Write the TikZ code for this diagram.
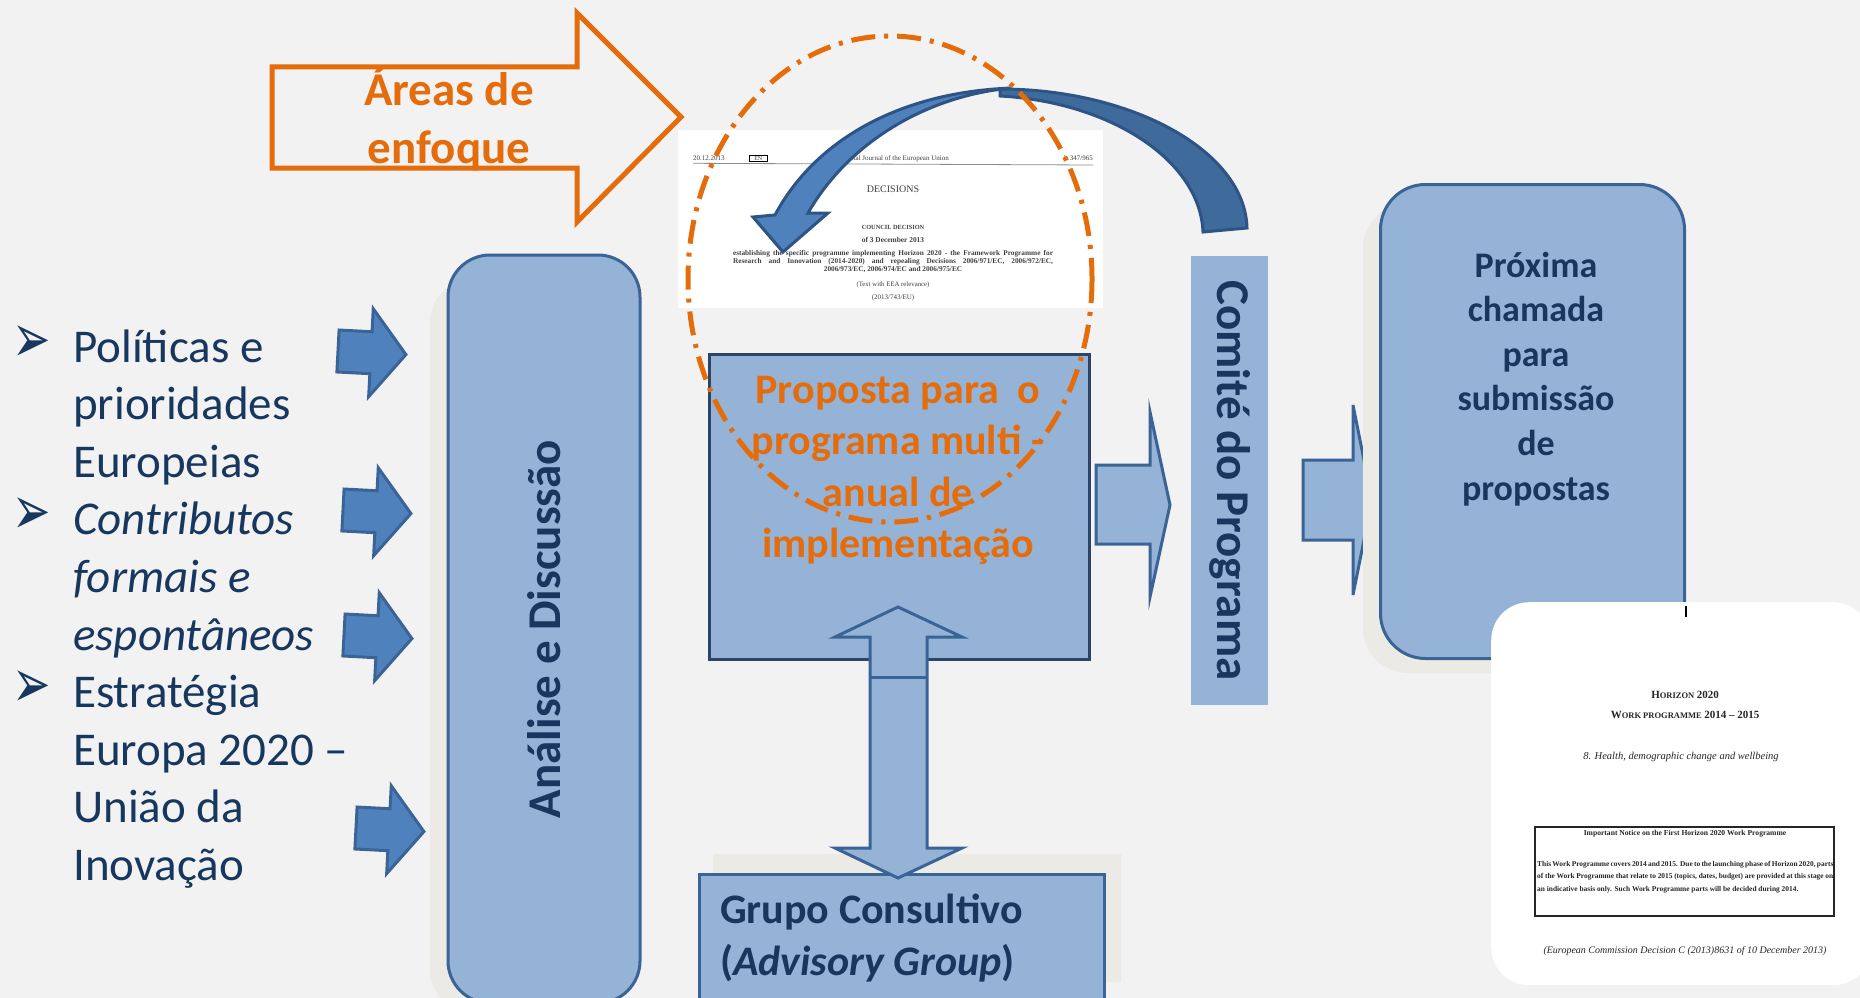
\documentclass[tikz,border=0pt]{standalone}
\usepackage{fontspec}
\setmainfont{Carlito}
\newfontfamily\docfont{Liberation Serif}
\newfontfamily\symfont{DejaVu Sans}
\usetikzlibrary{arrows.meta,calc,positioning}
\definecolor{fundo}{HTML}{F2F2F2}
\definecolor{azulclaro}{HTML}{95B3D7}
\definecolor{azul}{HTML}{4F81BD}
\definecolor{azulborda}{HTML}{3A6496}
\definecolor{azulescuro}{HTML}{2B4468}
\definecolor{marinho}{HTML}{17375E}
\definecolor{laranja}{HTML}{E46C0A}
\definecolor{sombra}{HTML}{ECEAE4}
\definecolor{curvaescura}{HTML}{3F6A9C}
\definecolor{curvaborda}{HTML}{2E5385}
\newcommand{\fsz}[1]{\fontsize{#1}{#1}\selectfont}

\begin{document}
\begin{tikzpicture}[x=1pt,y=-1pt,every node/.style={inner sep=0pt},
            caixa/.style={fill=azulclaro,draw=azulborda,line width=3pt},
            seta/.style={fill=azul,draw=azulborda,line width=3pt},
            texto/.style={text=marinho,font=\fsz{47}},
            titulo/.style={text=marinho,font=\bfseries\fsz{#1}},
            realce/.style={text=laranja,font=\bfseries\fsz{#1}},
            doc/.style={text=black!75,font=\docfont\fsz{#1}}]
\useasboundingbox (0,0) rectangle (1860,998);
\fill[fundo] (0,0) rectangle (1860,998);
% areas de enfoque
\draw[laranja,line width=5pt] (272,67)--(577,67)--(577,13)--(681,117)--(577,222)--(577,168)--(272,168)--cycle;
\node[realce=47,anchor=base] (areas1) at (449,105) {Áreas de};
\node[realce=47,anchor=base] (areas2) at (449,163) {enfoque};
% decisao do conselho
\node[fill=white,minimum width=425,minimum height=178,anchor=north west] (decisao) at (678,130) {};
\node[doc=7,anchor=base west] (data) at (693,160) {20.12.2013};
\node[doc=6,draw,line width=0.6pt,inner xsep=5pt,inner ysep=1pt,anchor=base west] (lingua) at (749,160) {EN};
\node[doc=7,anchor=base east] (jornal) at (949,160) {Official Journal of the European Union};
\node[doc=7,anchor=base east] (pagina) at (1093,160) {L 347/965};
\draw[black!45,line width=0.8pt] (data.south west)++(0,3)--(1093,165);
\node[doc=10,anchor=base] (decisions) at (893,192) {DECISIONS};
\node[doc=6.3,anchor=base,font=\docfont\bfseries\fsz{6.3}] (conselho) at (893,229) {COUNCIL DECISION};
\node[anchor=base,text=black!75,font=\docfont\bfseries\fsz{7.4}] (dia) at (893,242) {of 3 December 2013};
\node[anchor=base,text=black!75,font=\docfont\bfseries\fsz{7.3}] (par1) at (893,255) {\makebox[320pt][s]{establishing the specific programme implementing Horizon 2020 - the Framework Programme for}};
\node[anchor=base,text=black!75,font=\docfont\bfseries\fsz{7.3}] (par2) at (893,263) {\makebox[320pt][s]{Research and Innovation (2014-2020) and repealing Decisions 2006/971/EC, 2006/972/EC,}};
\node[anchor=base,text=black!75,font=\docfont\bfseries\fsz{7.3}] (par3) at (893,271) {2006/973/EC, 2006/974/EC and 2006/975/EC};
\node[doc=6.8,anchor=base] (eea) at (893,286) {(Text with EEA relevance)};
\node[doc=7,anchor=base] (ref) at (893,299) {(2013/743/EU)};
% analise e discussao
\fill[sombra,rounded corners=42pt] (430,280) rectangle (622,1012);
\node[caixa,rounded corners=42pt,rotate=90,minimum width=748,minimum height=192,titulo=47] (analise) at (544,629) {Análise e Discussão};
% lista da esquerda
\foreach \t [count=\i from 0] in {Políticas e,prioridades,Europeias,\textit{Contributos},\textit{formais e},\textit{espontâneos},Estratégia,Europa 2020 –,União da,Inovação}
  \node[texto,anchor=base west] (linha\i) at (73,{362+57.6*\i}) {\t};
\foreach \i in {0,3,6}
  \node[text=marinho,font=\symfont\fsz{46},yscale=1.5,anchor=base west] (marca\i) at (12,{362+57.6*\i}) {➢};
\foreach \x/\y [count=\i] in {338/351,343/510,344/635,356/828}
  \draw[seta,rotate around={-3:(\x,\y)}] (\x,\y-21)--++(33,0)--++(0,-23)--++(35,44)--++(-35,44)--++(0,-23)--++(-33,0)--cycle;
% proposta
\node[fill=azulclaro,draw=azulescuro,line width=3pt,minimum width=380,minimum height=305,anchor=north west] (proposta) at (708,353) {};
\foreach \t [count=\i from 0] in {Proposta para~~o,programa multi -,anual de,implementação}
  \node[realce=42,anchor=base] (prop\i) at (898,{403+51.5*\i}) {\t};
% comite
\node[fill=azulclaro,rotate=-90,minimum width=449,minimum height=77,titulo=47] (comite) at (1229.5,480.5) {Comité do Programa};
\draw[caixa] (1096,465)--(1150,465)--(1150,412)--(1170,505)--(1150,597)--(1150,544)--(1096,544)--cycle;
\draw[caixa] (1303,460)--(1353,460)--(1353,405)--(1372,500)--(1353,595)--(1353,540)--(1303,540)--cycle;
% proxima chamada
\fill[sombra,rounded corners=45pt] (1363,203) rectangle (1667,673);
\node[caixa,rounded corners=45pt,minimum width=304,minimum height=474,anchor=north west] (proxima) at (1379,183) {};
\foreach \t [count=\i from 0] in {Próxima,chamada,para,submissão,de,propostas}
  \node[titulo=36,anchor=base] (prox\i) at (1536,{277+44.6*\i}) {\t};
% grupo consultivo
\fill[sombra] (713,854) rectangle (1121,982);
\node[caixa,minimum width=405,minimum height=140,anchor=north west] (grupo) at (698,873) {};
\node[titulo=42,anchor=base west] (grupo1) at (720,923) {Grupo Consultivo};
\node[titulo=42,anchor=base west] (grupo2) at (720,975) {(\textit{Advisory Group})};
\draw[caixa] (898,607)--(962,637)--(927,637)--(927,848)--(962,848)--(898,878)--(835,848)--(870,848)--(870,637)--(835,637)--cycle;
\draw[azulborda,line width=3pt] (870,677)--(927,677);
% programa de trabalho
\node[fill=white,rounded corners=38pt,minimum width=380,minimum height=383,anchor=north west] (programa) at (1491,602) {};
\draw[black,line width=2pt] (1686,606)--(1686,617);
\node[anchor=base,text=black!85,font=\docfont\bfseries] (horizon) at (1685,698) {{\fsz{11}H}{\fsz{8.5}ORIZON} {\fsz{11}2020}};
\node[anchor=base,text=black!85,font=\docfont\bfseries] (wp) at (1685,718) {{\fsz{11}W}{\fsz{8.5}ORK PROGRAMME} {\fsz{11}2014 – 2015}};
\node[anchor=base,text=black!85,font=\docfont\itshape\fsz{10.5}] (saude) at (1681,759) {8. Health, demographic change and wellbeing};
\draw[black!85,line width=1.5pt] (1535,827) rectangle (1834,916);
\node[anchor=base,text=black!85,font=\docfont\bfseries\fsz{7.6}] (aviso) at (1685,835) {Important Notice on the First Horizon 2020 Work Programme};
\node[anchor=base west,text=black!85,font=\docfont\bfseries\fsz{7.4}] (aviso1) at (1537,866) {\makebox[296pt][s]{This Work Programme covers 2014 and 2015. Due to the launching phase of Horizon 2020, parts}};
\node[anchor=base west,text=black!85,font=\docfont\bfseries\fsz{7.4}] (aviso2) at (1537,878) {\makebox[296pt][s]{of the Work Programme that relate to 2015 (topics, dates, budget) are provided at this stage on}};
\node[anchor=base west,text=black!85,font=\docfont\bfseries\fsz{7.4}] (aviso3) at (1537,891) {an indicative basis only. Such Work Programme parts will be decided during 2014.};
\node[anchor=base,text=black!85,font=\docfont\itshape\fsz{10}] (comissao) at (1685,953) {(European Commission Decision C (2013)8631 of 10 December 2013)};
% seta curva
\filldraw[fill=curvaescura,draw=curvaborda,line width=3pt] (1000,89) .. controls (1130,89) and (1245,150) .. (1247,228)--(1203,232) .. controls (1200,160) and (1110,102) .. (1000,96)--cycle;
\filldraw[fill=azul,draw=curvaborda,line width=3pt] (753,217)--(775,215) .. controls (815,140) and (900,92) .. (1012,88) .. controls (930,95) and (850,140) .. (808,213)--(828,213)--(783,252)--cycle;
% circulo de destaque
\draw[laranja,line width=5pt,dash pattern=on 24pt off 9pt on 4pt off 9pt] (890,279) ellipse [x radius=202,y radius=243];
\end{tikzpicture}
\end{document}
